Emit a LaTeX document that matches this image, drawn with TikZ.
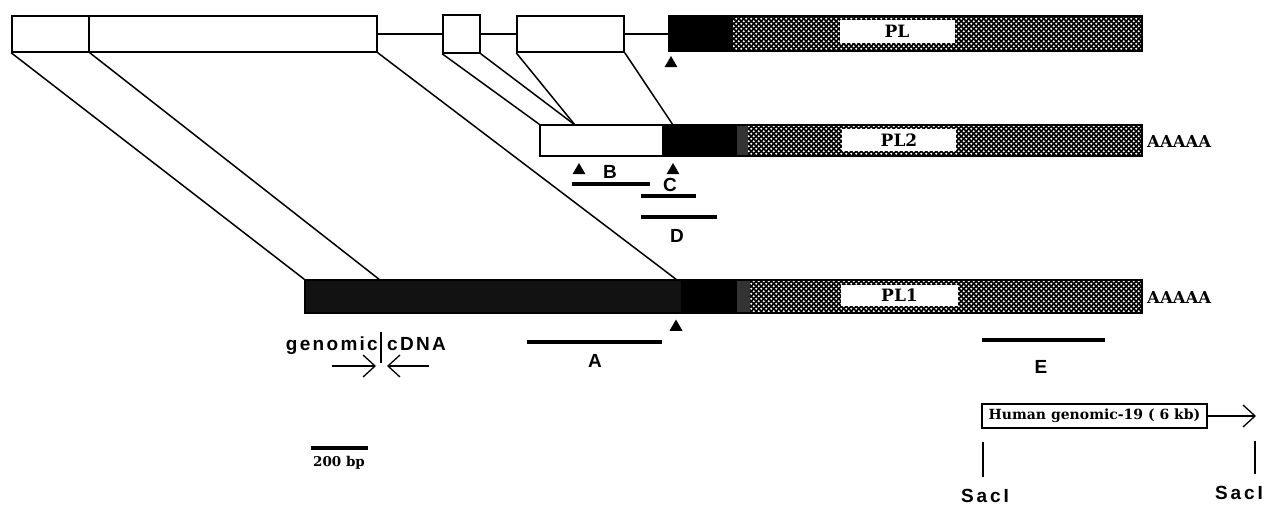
\documentclass[tikz,border=0pt]{standalone}
\usepackage{fontspec}
\setmainfont{DejaVu Serif}
\newfontfamily\sansb{Liberation Sans}
\newfontfamily\lsans[LetterSpace=12]{Liberation Sans}
\newfontfamily\sacfont[LetterSpace=15]{Liberation Sans}
\usetikzlibrary{patterns,shapes.geometric,arrows.meta}
\pgfdeclarepatternformonly{wdots}{\pgfqpoint{-1pt}{-1pt}}{\pgfqpoint{6pt}{6pt}}{\pgfqpoint{5pt}{5pt}}{%
  \pgfpathcircle{\pgfqpoint{1.25pt}{1.25pt}}{1.1pt}%
  \pgfpathcircle{\pgfqpoint{3.75pt}{3.75pt}}{1.1pt}%
  \pgfusepath{fill}}
\tikzset{
  exon/.style={draw, line width=1.6pt, rectangle, inner sep=0pt, fill=white},
  outline/.style={draw, line width=1.6pt, rectangle, inner sep=0pt},
  labbox/.style={rectangle, fill=white, inner sep=0pt, font=\bfseries\fontsize{17}{17}\selectfont},
  intron/.style={line width=2.2pt},
  link/.style={line width=1.5pt},
  tri/.style={regular polygon, regular polygon sides=3, fill=black, inner sep=0pt, minimum size=15pt},
  probe/.style={line width=3.8pt},
  letter/.style={inner sep=0pt, font=\sansb\bfseries\fontsize{19}{19}\selectfont},
  polyA/.style={inner sep=0pt, anchor=west, font=\bfseries\fontsize{16.5}{16.5}\selectfont},
  checker/.style={fill=black, postaction={pattern=wdots, pattern color=white}},
  barb/.style={line width=1.3pt, -{Straight Barb[length=12pt,width=22pt]}},
  sac/.style={inner sep=0pt, anchor=base west, font=\sacfont\bfseries\fontsize{19}{19}\selectfont},
}
\begin{document}
\begin{tikzpicture}[x=1pt,y=-1pt]
\fill[white] (0,0) rectangle (1267,505);
\useasboundingbox (0,0) rectangle (1267,505);

% ---------- top gene (genomic) ----------
\node[exon, minimum width=77pt, minimum height=36pt] (e1a) at (50.5,34) {};
\node[exon, minimum width=288pt, minimum height=36pt] (e1b) at (233,34) {};
\node[exon, minimum width=37pt, minimum height=38pt] (e2) at (461.5,34) {};
\node[exon, minimum width=107pt, minimum height=36pt] (e3) at (570.5,34) {};
\fill[black] (669,16) rectangle (733,51);
\path[checker] (733,16) rectangle (1142,51);
\node[labbox, minimum width=115pt, minimum height=23pt] (plL) at (897,31.5) {PL};
\node[outline, minimum width=473pt, minimum height=35pt] (pl) at (905.5,33.5) {};
\draw[intron] (e1b.east) -- (e2.west);
\draw[intron] (e2.east) -- (e3.west);
\draw[intron] (e3.east) -- (e3.east -| pl.west);
\node[tri] (t1) at (671,63.5) {};

% ---------- PL2 ----------
\fill[black] (662,125) rectangle (737,156);
\fill[black!80] (737,125) rectangle (748,156);
\path[checker] (748,125) rectangle (1142,156);
\node[labbox, minimum width=114pt, minimum height=22pt] (pl2L) at (899,140) {PL2};
\node[outline, minimum width=602pt, minimum height=31pt] (pl2) at (841,140.5) {};
\node[polyA] (pa2) at (1147,141) {AAAAA};
\node[tri] (t2) at (579,170.5) {};
\node[tri] (t3) at (673,170.5) {};

% ---------- PL1 ----------
\fill[black!93] (305,280) rectangle (681,313);
\fill[black] (681,280) rectangle (737,313);
\fill[black!80] (737,280) rectangle (750,313);
\path[checker] (750,280) rectangle (1142,313);
\node[labbox, minimum width=117pt, minimum height=21pt] (pl1L) at (899.5,295.5) {PL1};
\node[outline, minimum width=837pt, minimum height=33pt] (pl1) at (723.5,296.5) {};
\node[polyA] (pa1) at (1147,297) {AAAAA};
\node[tri] (t4) at (676,327) {};

% ---------- links between exons ----------
\coordinate (j1) at (380,280);
\coordinate (j2) at (677,280);
\coordinate (j3) at (575,125);
\coordinate (j4) at (673,125);
\draw[link] (e1a.south west) -- (pl1.north west);
\draw[link] (e1a.south east) -- (j1);
\draw[link] (e1b.south east) -- (j2);
\draw[link] (e2.south west) -- (pl2.north west);
\draw[link] (e2.south east) -- (j3);
\draw[link] (e3.south west) -- (j3);
\draw[link] (e3.south east) -- (j4);

% ---------- probes ----------
\draw[probe] (572,184) -- (650,184);
\draw[probe] (641,196) -- (696,196);
\draw[probe] (641,217) -- (717,217);
\draw[probe] (527,342) -- (662,342);
\draw[probe] (982,340) -- (1105,340);
\node[letter] (lB) at (610,172) {B};
\node[letter] (lC) at (670,185) {C};
\node[letter] (lD) at (677,236) {D};
\node[letter] (lA) at (595,361) {A};
\node[letter] (lE) at (1041,367) {E};

% ---------- genomic | cDNA ----------
\node[inner sep=0pt, anchor=base east, font=\lsans\bfseries\fontsize{19}{19}\selectfont] (gen) at (378,350) {genomic};
\node[inner sep=0pt, anchor=base west, font=\lsans\bfseries\fontsize{19}{19}\selectfont] (cdna) at (387,350) {cDNA};
\draw[line width=1.3pt] (381,332) -- (381,363);
\coordinate (ga1) at (332,366);
\coordinate (ga2) at (376,366);
\coordinate (ca1) at (429,366);
\coordinate (ca2) at (387,366);
\draw[barb] (ga1) -- (ga2);
\draw[barb] (ca1) -- (ca2);

% ---------- scale bar ----------
\draw[line width=4pt] (311,448) -- (368,448);
\node[inner sep=0pt, font=\bfseries\fontsize{13.5}{13.5}\selectfont] (bp) at (339,463) {200 bp};

% ---------- human genomic clone ----------
\node[draw, line width=1.3pt, minimum width=225pt, minimum height=24pt, inner sep=0pt, font=\bfseries\fontsize{14}{14}\selectfont] (hg) at (1094.5,416) {Human genomic-19 ( 6 kb)};
\coordinate (hgtip) at (1256,416);
\draw[barb] (hg.east) -- (hgtip);
\draw[line width=1.3pt] (983,442) -- (983,477);
\draw[line width=1.3pt] (1255,441) -- (1255,474);
\node[sac] (s1) at (961,502) {SacI};
\node[sac] (s2) at (1215,499) {SacI};
\end{tikzpicture}
\end{document}
